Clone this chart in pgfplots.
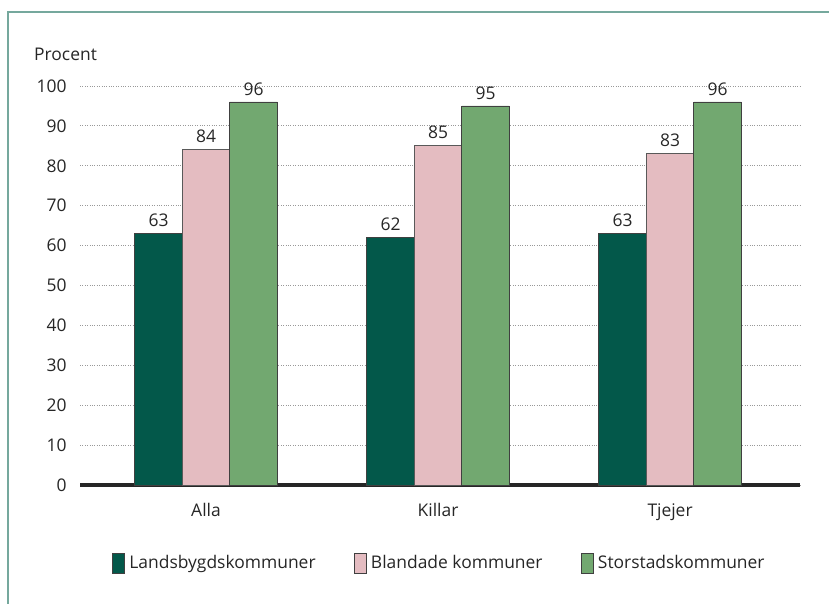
\documentclass[border=0pt]{standalone}
\usepackage{fontspec}
\setmainfont{Open Sans}
\usepackage{pgfplots}
\pgfplotsset{compat=1.18}
\definecolor{landsbygd}{HTML}{03584A}
\definecolor{blandade}{HTML}{E4BCC1}
\definecolor{storstad}{HTML}{72A870}
\definecolor{frame}{HTML}{75A89D}
\definecolor{txt}{HTML}{262626}
\begin{document}
\begin{tikzpicture}[x=1bp,y=1bp]
  \path[use as bounding box] (0,0) rectangle (829,604);
  % Rahmen oben und links
  \draw[frame, line width=1.5bp] (8,0) -- (8,592) -- (829,592);
  \node[anchor=west, text=txt, font=\fontsize{17.5}{20}\selectfont, inner sep=0pt] at (34,550) {Procent};
  \begin{axis}[
      at={(80bp,119bp)}, anchor=south west,
      scale only axis,
      width=720bp, height=399bp,
      ybar=0pt, bar width=47.5bp,
      xmin=-0.543, xmax=2.56,
      ymin=0, ymax=100,
      ytick={0,10,...,100},
      xtick={0,1,2},
      xticklabels={Alla,Killar,Tjejer},
      axis lines*=left,
      y axis line style={draw=none},
      x axis line style={draw=black!85, line width=3.5bp},
      major tick length=0pt,
      ymajorgrids,
      grid style={dotted, gray!80, line width=0.8bp},
      tick label style={text=txt, font=\fontsize{17.5}{20}\selectfont},
      yticklabel style={xshift=-10bp},
      xticklabel style={yshift=-15bp},
      /pgf/number format/assume math mode=true,
      clip=false,
      nodes near coords,
      every node near coord/.append style={text=txt, font=\fontsize{17.5}{20}\selectfont, yshift=3bp},
      legend columns=3,
      legend cell align=left,
      legend style={draw=none, fill=none, at={(0.499,-0.1955)}, anchor=center,
        font=\fontsize{17.5}{20}\selectfont, text=txt,
        /tikz/every even column/.append style={column sep=36bp}},
      legend image code/.code={\draw[#1, draw=black!75] (0bp,-10bp) rectangle (12bp,10bp);
        \path[draw=none, fill=none] (0bp,0bp) -- (15bp,0bp);},
    ]
    \addplot[fill=landsbygd, draw=black!75, line width=0.8bp] coordinates {(0,63) (1,62) (2,63)};
    \addlegendentry{Landsbygdskommuner}
    \addplot[fill=blandade, draw=black!65, line width=0.8bp] coordinates {(0,84) (1,85) (2,83)};
    \addlegendentry{Blandade kommuner}
    \addplot[fill=storstad, draw=black!75, line width=0.8bp] coordinates {(0,96) (1,95) (2,96)};
    \addlegendentry{Storstadskommuner}
  \end{axis}
\end{tikzpicture}
\end{document}
